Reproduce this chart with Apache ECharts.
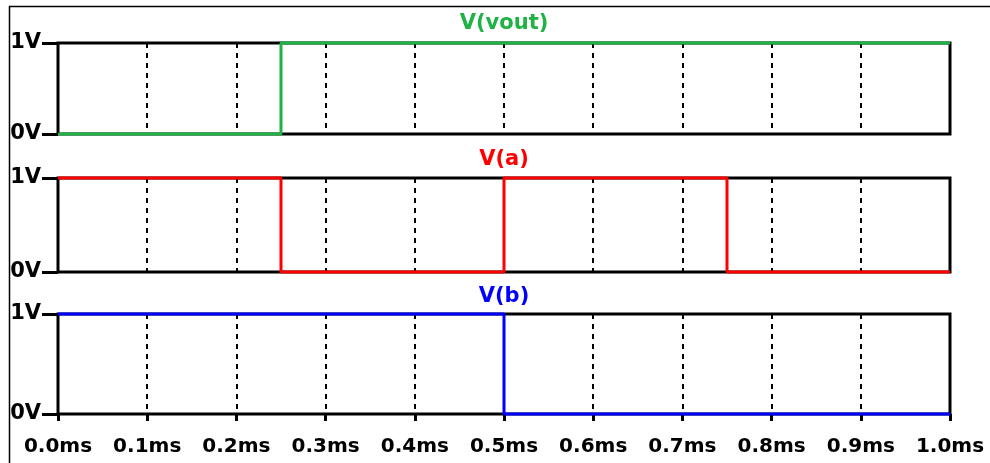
<!DOCTYPE html>
<html>
<head>
<meta charset="utf-8">
<script src="https://cdn.jsdelivr.net/npm/echarts@6/dist/echarts.min.js"></script>
<style>html,body{margin:0;padding:0;background:#fff;}#c{width:990px;height:463px;}</style>
</head>
<body>
<div id="c"></div>
<script>
// Data (time in ms, voltage in V)
const timeTicks = ['0.0ms','0.1ms','0.2ms','0.3ms','0.4ms','0.5ms','0.6ms','0.7ms','0.8ms','0.9ms','1.0ms'];
const voltTicks = ['0V','1V'];
const traceNames = ['V(vout)','V(a)','V(b)'];
const traceColors = ['#1fb244','#ff0000','#0000ff'];
const voutData = [[0,0],[0.25,0],[0.25,1],[1.0,1]];
const aData = [[0,1],[0.25,1],[0.25,0],[0.5,0],[0.5,1],[0.75,1],[0.75,0],[1.0,0]];
const bData = [[0,1],[0.5,1],[0.5,0],[1.0,0]];
const traces = [voutData, aData, bData];

const panels = [
  {top:43, height:91, titleTop:13},
  {top:178, height:94, titleTop:149},
  {top:314, height:100, titleTop:286}
];
const LEFT = 58, WIDTH = 892;
const font = 'DejaVu Sans';

const grids = [], xAxes = [], yAxes = [], series = [], titles = [];
panels.forEach((p, i) => {
  grids.push({left: LEFT, width: WIDTH, top: p.top, height: p.height, show: true,
    borderColor: '#000', borderWidth: 3, backgroundColor: 'transparent', containLabel: false});
  const isLast = i === panels.length - 1;
  xAxes.push({type: 'value', gridIndex: i, min: 0, max: 1.0, interval: 0.1,
    axisLine: {show: false},
    axisTick: {show: isLast, length: 7, lineStyle: {color: '#000', width: 3}},
    axisLabel: {show: isLast, margin: 23, color: '#000', fontFamily: font, fontWeight: 'bold', fontSize: 20,
      formatter: v => timeTicks[Math.round(v * 10)]},
    splitLine: {show: true, lineStyle: {color: '#000', width: 2, type: [5, 5]}}
  });
  yAxes.push({type: 'value', gridIndex: i, min: 0, max: 1, interval: 1,
    axisLine: {show: false},
    axisTick: {show: true, length: 16, lineStyle: {color: '#000', width: 3}},
    axisLabel: {show: true, margin: 17, color: '#000', fontFamily: font, fontWeight: 'bold', fontSize: 21,
      formatter: v => voltTicks[Math.round(v)]},
    splitLine: {show: false}
  });
  series.push({type: 'line', xAxisIndex: i, yAxisIndex: i, data: traces[i], name: traceNames[i],
    showSymbol: false, symbol: 'none', clip: false, animation: false,
    lineStyle: {color: traceColors[i], width: 3}, z: 5});
  titles.push({text: traceNames[i], left: LEFT + WIDTH / 2, top: p.titleTop, textAlign: 'center', padding: 0,
    textStyle: {color: traceColors[i], fontFamily: font, fontWeight: 'bold', fontSize: 21}});
});

const chart = echarts.init(document.getElementById('c'), null, {renderer: 'canvas'});
chart.setOption({
  animation: false,
  backgroundColor: '#fff',
  title: titles,
  grid: grids,
  xAxis: xAxes,
  yAxis: yAxes,
  series: series,
  graphic: [{type: 'polyline', shape: {points: [[9.5, 463], [9.5, 6.5], [990, 6.5]]},
    style: {stroke: '#000', lineWidth: 1.5, fill: null}, silent: true}]
});
</script>
</body>
</html>
